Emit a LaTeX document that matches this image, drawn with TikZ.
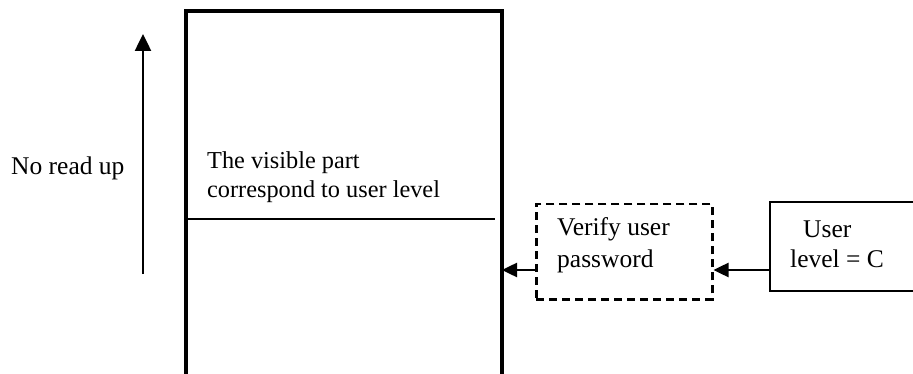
\documentclass[tikz,border=0pt]{standalone}
\usepackage{fontspec}
\setmainfont{Liberation Serif}
\usetikzlibrary{arrows.meta}
\begin{document}
\begin{tikzpicture}[x=1pt,y=-1pt,
  txt/.style={anchor=base west,inner sep=0pt,font=\fontsize{25.5}{28}\selectfont},
  txts/.style={anchor=base west,inner sep=0pt,font=\fontsize{24.3}{28}\selectfont},
  conn/.style={line width=2.5pt,-{Triangle[length=15pt,width=14pt]}},
  boxd/.style={draw,dashed,line width=2.5pt,dash pattern=on 8pt off 5pt,minimum width=176pt,minimum height=95pt,inner sep=0pt},
  boxs/.style={draw,line width=2pt,minimum width=170pt,minimum height=89pt,inner sep=0pt}]
\useasboundingbox (0,0) rectangle (913,374);
% big store (open at bottom)
\draw[line width=3.5pt] (186,380) -- (186,11) -- (502,11) -- (502,380);
\draw[line width=2pt] (186,219) -- (495,219);
\coordinate (store) at (502,270);
% up arrow
\coordinate (upbot) at (143,274);
\coordinate (uptop) at (143,34);
\draw[line width=2.5pt,-{Triangle[length=17pt,width=16pt]}] (upbot) -- (uptop);
% boxes
\node[boxd,anchor=north west] (verify) at (535,203) {};
\node[boxs,anchor=north west] (user) at (769,201) {};
\draw[conn] (verify.west |- store) -- (store);
\draw[conn] (user.west |- store) -- (verify.east |- store);
% texts
\node[txt] (noread) at (11,175) {No read up};
\node[txts] (vis1) at (207,169) {The visible part};
\node[txts] (vis2) at (207,198) {correspond to user level};
\node[txt] (ver1) at (557,236) {Verify user};
\node[txt] (ver2) at (557,267) {password};
\node[txt] (usr1) at (803,237) {User};
\node[txt] (usr2) at (790,267) {level = C};
\end{tikzpicture}
\end{document}
